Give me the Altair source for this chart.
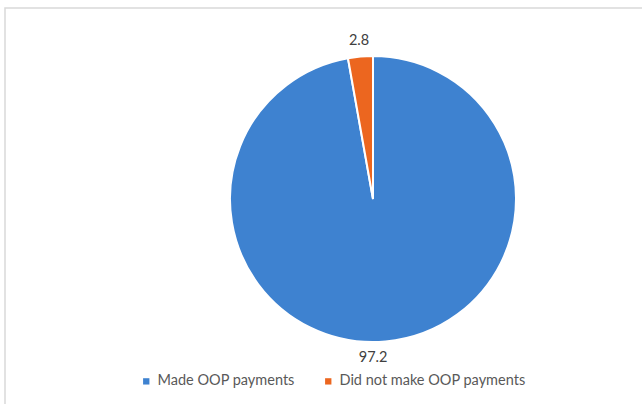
import altair as alt
import pandas as pd

categories = ["Made OOP payments", "Did not make OOP payments"]
values = [97.2, 2.8]
labels = ["97.2", "2.8"]
colors = ["#3E82D0", "#EC661F"]

df = pd.DataFrame({"cat": categories, "val": values, "label": labels, "order": [0, 1]})

W, H = 642, 404
CX, CY, R = 373, 199, 143

theta_scale = alt.Scale(domain=[0, 100], range=[0, 6.283185307179586])

base = alt.Chart(df).transform_window(
    cum="sum(val)", sort=[alt.SortField("order")]
).transform_calculate(
    start="datum.cum - datum.val", mid="datum.cum - datum.val / 2"
)

frame = alt.Chart(pd.DataFrame({"a": [0]})).mark_rect(
    fill="white", stroke="#D9D9D9", strokeWidth=1.5
).encode(x=alt.value(5), y=alt.value(8), x2=alt.value(700), y2=alt.value(500))

pie = base.mark_arc(outerRadius=R, stroke="white", strokeWidth=2).encode(
    x=alt.value(CX), y=alt.value(CY),
    theta=alt.Theta("start:Q", scale=theta_scale),
    theta2="cum:Q",
    color=alt.Color(
        "cat:N",
        scale=alt.Scale(domain=categories, range=colors),
        legend=alt.Legend(
            title=None, orient="none", legendX=139, legendY=374,
            direction="horizontal", symbolType="square", symbolSize=40,
            labelFont="Lato", labelFontSize=14.5, labelColor="#595959",
            columnPadding=26, symbolStrokeWidth=0, labelOffset=4, labelLimit=400,
        ),
    ),
)

txt1 = base.transform_filter(alt.datum.order == 1).mark_text(
    radius=159, font="Lato", fontSize=14.5, color="#404040"
).encode(
    x=alt.value(CX), y=alt.value(CY),
    theta=alt.Theta("mid:Q", scale=theta_scale), text="label:N"
)

txt0 = base.transform_filter(alt.datum.order == 0).mark_text(
    radius=160, dx=-14, font="Lato", fontSize=14.5, color="#404040"
).encode(
    x=alt.value(CX), y=alt.value(CY),
    theta=alt.Theta("mid:Q", scale=theta_scale), text="label:N"
)

chart = alt.layer(frame, pie, txt0, txt1).properties(
    width=W, height=H, padding=0, autosize=alt.AutoSizeParams(type="none")
).configure_view(stroke=None)

chart.save("out.html", embed_options={"renderer": "svg", "actions": False})
